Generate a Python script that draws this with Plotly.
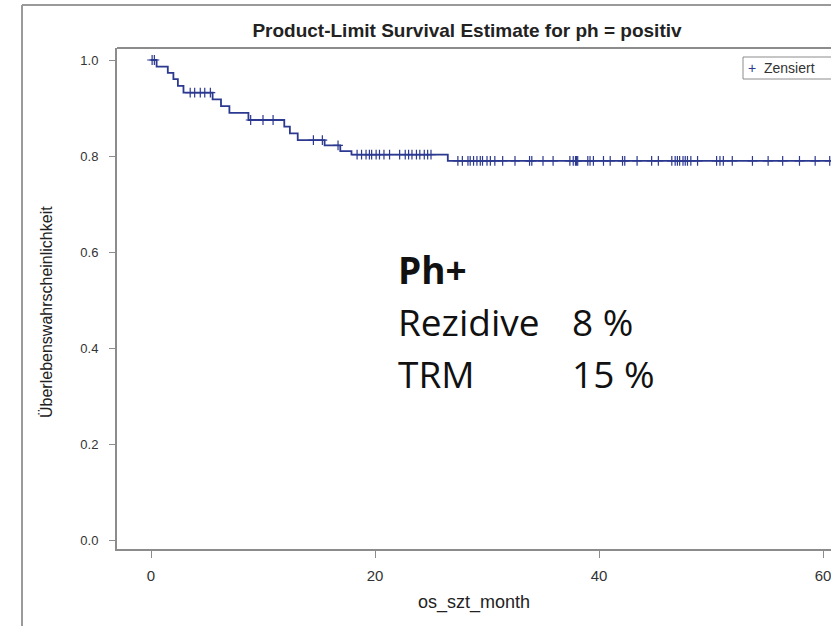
import numpy as np
import plotly.graph_objects as go

# Kaplan-Meier estimate
event_times = [0.5, 1.5, 2.0, 2.4, 2.9, 5.5, 6.25, 7.0, 8.7, 11.9, 12.4, 13.1, 15.5, 16.9, 17.9, 26.5]
event_surv = [0.986, 0.973, 0.960, 0.946, 0.932, 0.918, 0.904, 0.890, 0.875, 0.861, 0.847, 0.833,
              0.822, 0.810, 0.803, 0.790]
censor_times = [0.1, 0.3, 3.5, 3.9, 4.4, 4.8, 5.3, 8.9, 10.0, 10.9, 14.5, 15.3, 16.7,
                18.4, 18.8, 19.2, 19.5, 19.7, 20.1, 20.4, 20.8, 21.3, 22.2, 22.7, 23.0, 23.3,
                23.7, 24.0, 24.4, 24.7, 25.0,
                27.4, 27.8, 28.3, 28.5, 28.8, 29.1, 29.4, 29.6, 30.0, 30.3, 30.7, 31.4, 32.5,
                33.8, 34.0, 35.0, 35.9, 37.4, 37.7, 37.9, 38.0, 38.1, 39.0, 39.2, 39.5, 40.4,
                41.0, 42.1, 42.3, 43.4, 44.7, 45.3, 46.5, 46.8, 47.0, 47.2, 47.5, 47.7, 47.9,
                48.2, 48.8, 50.5, 50.8, 51.1, 51.9, 53.7, 55.1, 56.4, 57.9, 59.3, 60.6]
end_time = 63.0
x_ticks = [0, 20, 40, 60]
y_ticks = [0.0, 0.2, 0.4, 0.6, 0.8, 1.0]

title_text = "Product-Limit Survival Estimate for ph = positiv"
x_title = "os_szt_month"
y_title = "Überlebenswahrscheinlichkeit"
legend_label = "Zensiert"
box_lines = [("Ph+", ""), ("Rezidive", "8 %"), ("TRM", "15 %")]

BLUE = "#2b3990"
FRAME = "#8c8c8c"
NARROW = "Liberation Sans Narrow, Arial Narrow, Liberation Sans, Arial, sans-serif"
ARIAL = "Liberation Sans, Arial, sans-serif"
CAL = "Open Sans, Lato, sans-serif"

step_x = [0.0] + event_times + [end_time]
step_y = [1.0] + event_surv + [event_surv[-1]]


def surv_at(t):
    idx = np.searchsorted(np.array(event_times), t, side="right")
    return 1.0 if idx == 0 else event_surv[idx - 1]


censor_y = [surv_at(t) for t in censor_times]

fig = go.Figure()
fig.add_trace(go.Scatter(x=step_x, y=step_y, mode="lines", line=dict(color=BLUE, width=1.8, shape="hv"),
                         showlegend=False, hoverinfo="skip"))
fig.add_trace(go.Scatter(x=censor_times, y=censor_y, mode="markers",
                         marker=dict(symbol="cross-thin", size=7, line=dict(color=BLUE, width=1.2)),
                         showlegend=False, name=legend_label))

# plot area geometry in pixels
L, R, T, B = 117, 831, 48, 549
W, H = 831, 626


def px(xp):
    return (xp - L) / (R - L)


def py(yp):
    return (B - yp) / (B - T)


shapes = [
    dict(type="line", xref="paper", yref="paper", x0=0, x1=1.05, y0=1, y1=1,
         line=dict(color=FRAME, width=2)),
    # outer frame
    dict(type="line", xref="paper", yref="paper", x0=px(22), x1=px(22), y0=py(5), y1=py(640),
         line=dict(color="#9a9a9a", width=2)),
    dict(type="line", xref="paper", yref="paper", x0=px(22), x1=px(850), y0=py(5), y1=py(5),
         line=dict(color="#9a9a9a", width=2)),
    # legend box
    dict(type="rect", xref="paper", yref="paper", x0=px(743), x1=px(860), y0=py(57), y1=py(79),
         line=dict(color="#8c8c8c", width=1), fillcolor="white"),
]

annotations = [
    dict(xref="paper", yref="paper", x=px(746), y=py(68), xanchor="left", yanchor="middle",
         text=f"<span style='color:{BLUE}'>+</span>  {legend_label}", showarrow=False,
         font=dict(family=ARIAL, size=14, color="#333333")),
    dict(xref="paper", yref="paper", x=px(47), y=py(312), xanchor="center", yanchor="middle",
         text=y_title, textangle=-90, showarrow=False,
         font=dict(family=NARROW, size=16, color="#222222")),
]
row_y = [269, 321, 373]
for (lab, val), ry in zip(box_lines, row_y):
    annotations.append(dict(xref="paper", yref="paper", x=px(396), y=py(ry), xanchor="left",
                            yanchor="middle", showarrow=False,
                            text=(f"<b>{lab}</b>" if not val else lab),
                            font=dict(family=CAL, size=37, color="#111111")))
    if val:
        annotations.append(dict(xref="paper", yref="paper", x=px(570), y=py(ry), xanchor="left",
                                yanchor="middle", showarrow=False, text=val,
                                font=dict(family=CAL, size=37, color="#111111")))

fig.update_layout(
    width=W, height=H,
    margin=dict(l=L, r=W - R, t=T, b=H - B),
    paper_bgcolor="white", plot_bgcolor="white",
    title=dict(text=f"<b>{title_text}</b>", x=467 / W, xanchor="center", xref="container",
               y=1 - 30 / H, yanchor="middle", yref="container",
               font=dict(family=NARROW, size=19, color="#222222")),
    xaxis=dict(range=[(L - 151) / 11.2, (R - 151) / 11.2], tickvals=x_ticks, ticks="outside",
               ticklen=7, tickcolor=FRAME, showline=True, linecolor=FRAME, linewidth=2,
               showgrid=False, zeroline=False, ticklabelstandoff=5, ticklabeloverflow="allow",
               tickfont=dict(family=NARROW, size=15, color="#333333"),
               title=dict(text=x_title, standoff=12, font=dict(family=NARROW, size=18, color="#222222"))),
    yaxis=dict(range=[(540 - B) / 480, (540 - T) / 480], tickvals=y_ticks, tickformat=".1f",
               ticks="outside", ticklen=6, tickcolor=FRAME, showline=True, linecolor=FRAME,
               linewidth=2, showgrid=False, zeroline=False, ticklabelstandoff=8,
               tickfont=dict(family=ARIAL, size=13, color="#333333")),
    shapes=shapes, annotations=annotations,
)

fig.write_html("out.html")
